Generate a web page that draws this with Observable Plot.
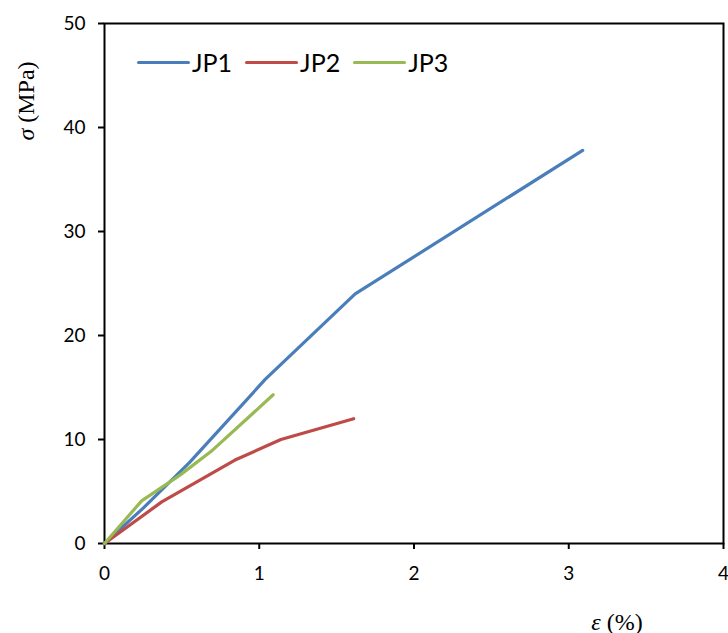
<!DOCTYPE html>
<html>
<head>
<meta charset="utf-8">
<script src="https://cdn.jsdelivr.net/npm/d3@7"></script>
<script src="https://cdn.jsdelivr.net/npm/@observablehq/plot@0.6"></script>
<style>
  html, body { margin: 0; padding: 0; background: #fff; }
  #wrap { position: relative; width: 728px; height: 633px; }
  .legend { position: absolute; left: 137px; top: 62px; transform: translateY(-50%); display: flex; align-items: center; font-family: Lato, "Open Sans", sans-serif; font-size: 25px; color: #000; }
  .legend .item { display: flex; align-items: center; margin-right: 13px; }
  .legend .sw { width: 53px; height: 3px; border-radius: 2px; margin-right: 2px; }
  .ylab { position: absolute; left: 26px; top: 101px; transform: translate(-50%, -50%) rotate(-90deg); font-family: "Liberation Serif", "DejaVu Serif", serif; font-size: 24px; white-space: nowrap; }
  .xlab { position: absolute; left: 617px; top: 622px; transform: translate(-50%, -50%); font-family: "Liberation Serif", "DejaVu Serif", serif; font-size: 24px; white-space: nowrap; }
</style>
</head>
<body>
<div id="wrap"></div>
<script>
const seriesNames = ["JP1", "JP2", "JP3"];
const seriesColors = ["#4A7EBB", "#BE4B48", "#98B954"];
const jp1Strain = [0, 0.25, 0.55, 1.04, 1.62, 3.09];
const jp1Stress = [0, 3.4, 7.8, 15.8, 24.0, 37.8];
const jp2Strain = [0, 0.37, 0.84, 1.14, 1.61];
const jp2Stress = [0, 4.0, 8.0, 10.0, 12.0];
const jp3Strain = [0, 0.24, 0.49, 0.70, 1.09];
const jp3Stress = [0, 4.1, 6.6, 9.0, 14.3];
const xTicks = [0, 1, 2, 3, 4];
const yTicks = [0, 10, 20, 30, 40, 50];

const strains = [jp1Strain, jp2Strain, jp3Strain];
const stresses = [jp1Stress, jp2Stress, jp3Stress];
const data = [];
seriesNames.forEach((name, i) => {
  strains[i].forEach((x, j) => data.push({series: name, x, y: stresses[i][j]}));
});

const fmt = d => String(d);

const chart = Plot.plot({
  width: 728,
  height: 633,
  marginLeft: 104,
  marginRight: 5,
  marginTop: 23,
  marginBottom: 90,
  style: {fontFamily: "Lato, 'Open Sans', sans-serif", fontSize: "19px", color: "#000", background: "#fff"},
  x: {domain: [0, 4], label: null},
  y: {domain: [0, 50], label: null},
  color: {domain: seriesNames, range: seriesColors},
  marks: [
    Plot.frame({stroke: "#000", strokeWidth: 2}),
    Plot.axisX({ticks: xTicks, tickFormat: fmt, tickSize: 6, tickPadding: 17, label: null, strokeWidth: 2, fontSize: 19}),
    Plot.axisY({ticks: yTicks, tickFormat: fmt, tickSize: 6, tickPadding: 13, label: null, strokeWidth: 2, fontSize: 19}),
    Plot.line(data, {x: "x", y: "y", z: "series", stroke: "series", strokeWidth: 3.2, strokeLinejoin: "round", strokeLinecap: "round"})
  ]
});

const wrap = document.getElementById("wrap");
wrap.appendChild(chart);

const legend = document.createElement("div");
legend.className = "legend";
seriesNames.forEach((name, i) => {
  const item = document.createElement("div");
  item.className = "item";
  const sw = document.createElement("span");
  sw.className = "sw";
  sw.style.background = seriesColors[i];
  const t = document.createElement("span");
  t.textContent = name;
  item.appendChild(sw);
  item.appendChild(t);
  legend.appendChild(item);
});
wrap.appendChild(legend);

const ylab = document.createElement("div");
ylab.className = "ylab";
ylab.innerHTML = "<i>σ</i> (MPa)";
wrap.appendChild(ylab);

const xlab = document.createElement("div");
xlab.className = "xlab";
xlab.innerHTML = "<i>ε</i> (%)";
wrap.appendChild(xlab);
</script>
</body>
</html>
